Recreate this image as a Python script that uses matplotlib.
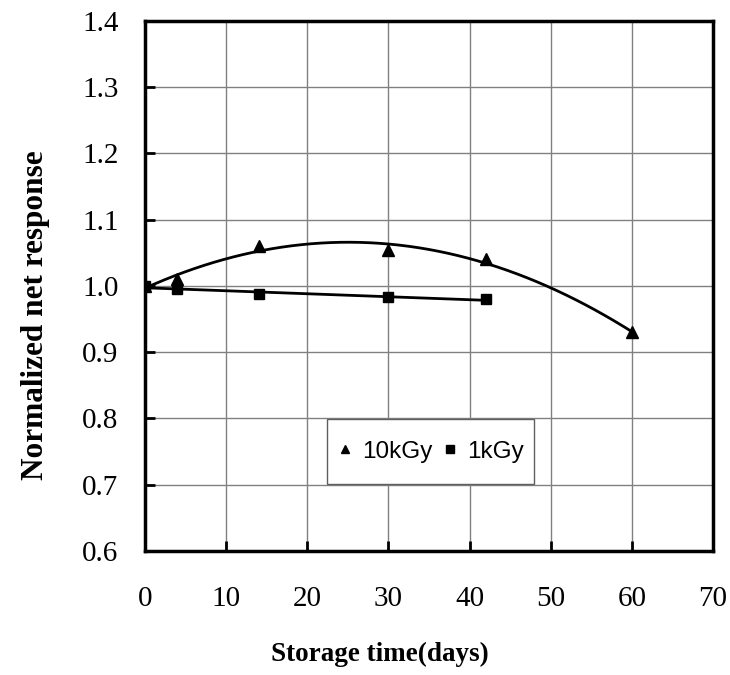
import matplotlib.pyplot as plt
import numpy as np
from matplotlib.patches import Rectangle

# storage time (days) and normalized net response
days_10k = [0, 4, 14, 30, 42, 60]
resp_10k = [1.000, 1.010, 1.060, 1.055, 1.040, 0.930]
days_1k = [0, 4, 14, 30, 42]
resp_1k = [1.000, 0.995, 0.988, 0.983, 0.980]

x_ticks = [0, 10, 20, 30, 40, 50, 60, 70]
y_ticks = [0.6, 0.7, 0.8, 0.9, 1.0, 1.1, 1.2, 1.3, 1.4]

fig = plt.figure(figsize=(7.3, 6.75), dpi=100)
ax = fig.add_axes([0.1986, 0.1837, 0.7781, 0.7852])

# trend lines (polynomial for 10kGy, linear for 1kGy)
p2 = np.polyfit(days_10k, resp_10k, 2)
xs = np.linspace(0, 60, 200)
ax.plot(xs, np.polyval(p2, xs), color="black", lw=2, zorder=3)
p1 = np.polyfit(days_1k, resp_1k, 1)
xs1 = np.linspace(0, 42, 50)
ax.plot(xs1, np.polyval(p1, xs1), color="black", lw=2, zorder=3)

ax.plot(days_10k, resp_10k, "^", color="black", ms=8, ls="none", label="10kGy", zorder=4)
ax.plot(days_1k, resp_1k, "s", color="black", ms=7, ls="none", label="1kGy", zorder=4)

ax.set_xlim(0, 70)
ax.set_ylim(0.6, 1.4)
ax.set_xticks(x_ticks)
ax.set_yticks(y_ticks)
ax.set_yticklabels([f"{v:.1f}" for v in y_ticks])
ax.grid(True, color="#808080", lw=1)
ax.set_axisbelow(True)

for s in ax.spines.values():
    s.set_linewidth(2.5)
ax.tick_params(direction="in", length=7, width=2, labelsize=21)
ax.tick_params(axis="x", pad=25)
ax.tick_params(axis="y", pad=19)
for lab in ax.get_xticklabels() + ax.get_yticklabels():
    lab.set_fontfamily("Liberation Serif")

ax.set_xlabel("Storage time(days)", fontfamily="Liberation Serif",
              fontweight="bold", fontsize=19.5)
ax.set_ylabel("Normalized net response", fontfamily="Liberation Serif",
              fontweight="bold", fontsize=22.5)
ax.xaxis.label.set_va("center")
ax.yaxis.label.set_va("center")
ax.xaxis.set_label_coords(0.414, -0.196)
ax.yaxis.set_label_coords(-0.192, 0.445)

# legend box
box = Rectangle((0.3204, 0.1264), 0.3645, 0.1226, transform=ax.transAxes,
                facecolor="white", edgecolor="#606060", lw=1, zorder=5)
ax.add_patch(box)
leg = ax.legend(loc="center", bbox_to_anchor=(0.503, 0.1877), ncol=2,
                prop={"family": "Liberation Sans", "size": 17.5},
                frameon=False, handletextpad=0.4,
                columnspacing=0.45, handlelength=0.6, borderpad=0.2,
                borderaxespad=0, markerscale=0.8)
leg.set_zorder(6)

fig.savefig("out.png", dpi=100)
